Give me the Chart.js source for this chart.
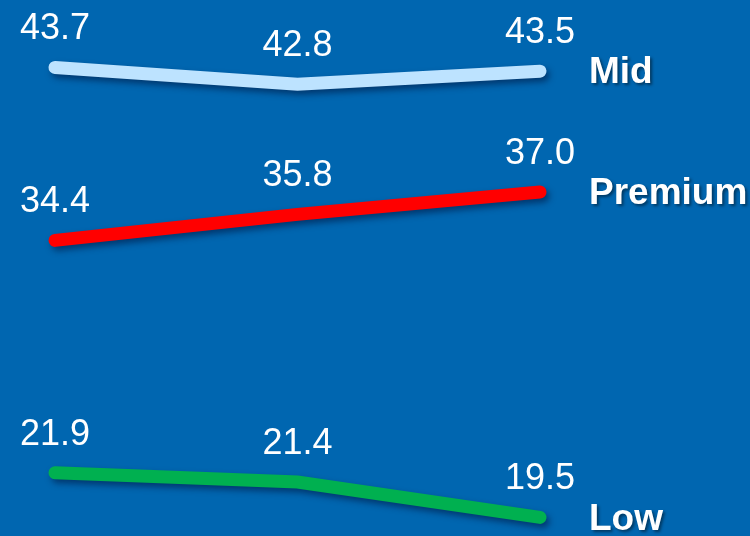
<!DOCTYPE html>
<html>
<head>
<meta charset="utf-8">
<script src="https://cdn.jsdelivr.net/npm/chart.js@4"></script>
<style>
  body { margin: 0; background: #0066B0; }
  #wrap { width: 750px; height: 536px; }
</style>
</head>
<body>
<div id="wrap"><canvas id="chart" width="750" height="536"></canvas></div>
<script>
// chart data
const periods = ['P1', 'P2', 'P3'];
const seriesNames = ['Mid', 'Premium', 'Low'];
const midValues = [43.7, 42.8, 43.5];
const premiumValues = [34.4, 35.8, 37.0];
const lowValues = [21.9, 21.4, 19.5];
const seriesColors = ['#BDE3FF', '#FF0000', '#00B050'];

// background fill
const bgPlugin = {
    id: 'bg',
    beforeDraw(chart) {
        const ctx = chart.ctx;
        ctx.save();
        ctx.fillStyle = '#0066B0';
        ctx.fillRect(0, 0, chart.width, chart.height);
        ctx.restore();
    }
};

// drop shadow under the lines
const shadowPlugin = {
    id: 'lineShadow',
    beforeDatasetDraw(chart) {
        const ctx = chart.ctx;
        ctx.save();
        ctx.shadowColor = 'rgba(0, 20, 60, 0.55)';
        ctx.shadowBlur = 6;
        ctx.shadowOffsetX = 3;
        ctx.shadowOffsetY = 4;
    },
    afterDatasetDraw(chart) {
        chart.ctx.restore();
    }
};

// value labels and series names
const labelPlugin = {
    id: 'labels',
    afterDatasetsDraw(chart) {
        const ctx = chart.ctx;
        ctx.save();
        chart.data.datasets.forEach((ds, i) => {
            const meta = chart.getDatasetMeta(i);
            ctx.font = '36px "Liberation Sans", Arial, sans-serif';
            ctx.fillStyle = '#FFFFFF';
            ctx.textAlign = 'center';
            ctx.textBaseline = 'middle';
            meta.data.forEach((pt, j) => {
                ctx.fillText(ds.data[j].toFixed(1), pt.x, pt.y - 38);
            });
            const last = meta.data[meta.data.length - 1];
            ctx.save();
            ctx.font = 'bold 37px "Liberation Sans", Arial, sans-serif';
            ctx.textAlign = 'left';
            ctx.shadowColor = 'rgba(0, 0, 0, 0.45)';
            ctx.shadowBlur = 3;
            ctx.shadowOffsetX = 2;
            ctx.shadowOffsetY = 2;
            ctx.fillText(ds.label, last.x + 49, last.y + 2);
            ctx.restore();
        });
        ctx.restore();
    }
};

const allValues = [midValues, premiumValues, lowValues];

new Chart(document.getElementById('chart'), {
    type: 'line',
    data: {
        labels: periods,
        datasets: seriesNames.map((name, i) => ({
            label: name,
            data: allValues[i],
            borderColor: seriesColors[i],
            borderWidth: 13,
            borderCapStyle: 'round',
            borderJoinStyle: 'miter',
            pointRadius: 0,
            tension: 0,
            clip: false,
            fill: false
        }))
    },
    options: {
        responsive: false,
        animation: false,
        layout: { padding: { left: 55, right: 210, top: 0, bottom: 0 } },
        plugins: {
            legend: { display: false },
            tooltip: { enabled: false }
        },
        scales: {
            x: { display: false, offset: false },
            y: { display: false, min: 18.5, max: 47.33 }
        }
    },
    plugins: [bgPlugin, shadowPlugin, labelPlugin]
});
</script>
</body>
</html>
